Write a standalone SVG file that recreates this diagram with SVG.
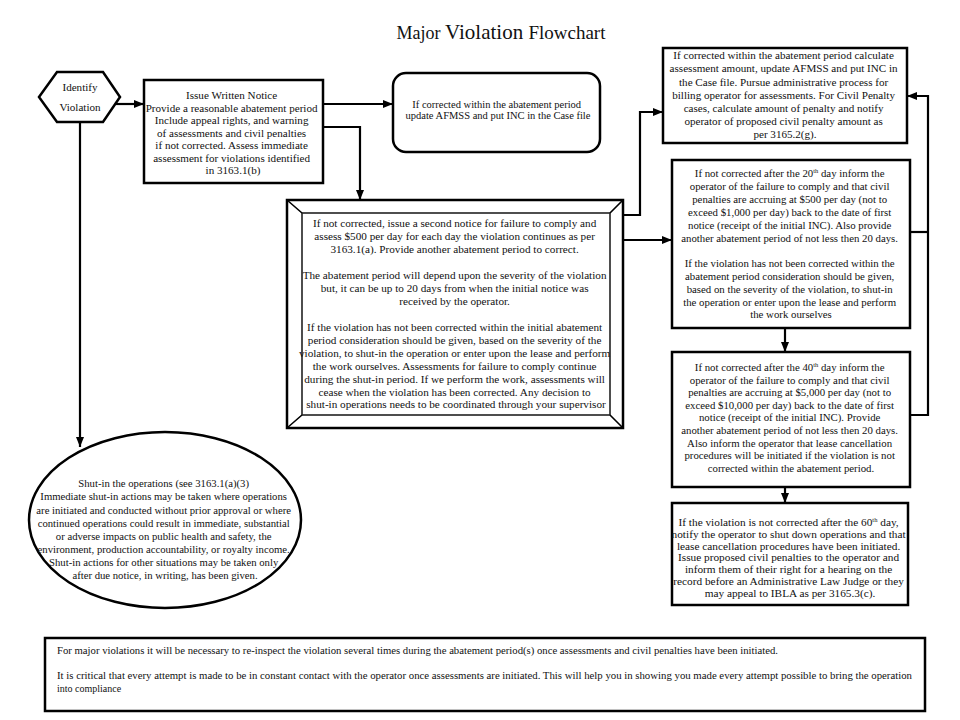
<svg xmlns="http://www.w3.org/2000/svg" width="960" height="720" viewBox="0 0 960 720">
<style>
.t{font-family:"Liberation Serif","Times New Roman",serif;fill:#111;text-anchor:middle}
.tl{font-family:"Liberation Serif","Times New Roman",serif;fill:#111;text-anchor:start}
.box{fill:#fff;stroke:#000;stroke-width:2.5}
.con{fill:none;stroke:#000;stroke-width:2.2}
.arr{marker-end:url(#ah)}
</style>
<defs>
<marker id="ah" viewBox="0 0 10 8" refX="10" refY="4" markerWidth="10" markerHeight="8" markerUnits="userSpaceOnUse" orient="auto">
<path d="M0,0 L10,4 L0,8 z" fill="#000"/>
</marker>
</defs>
<rect width="960" height="720" fill="#fff"/>

<g id="title">
<text class="t" x="501" y="39"><tspan font-size="18">Major </tspan><tspan font-size="21">Violation </tspan><tspan font-size="19">Flowchart</tspan></text>
</g>

<g id="connectors">
<path class="con arr" d="M116,104 H144"/>
<path class="con arr" d="M323,104 H393"/>
<path class="con arr" d="M323,127 H360 V200"/>
<path class="con arr" d="M80,122 V447"/>
<path class="con arr" d="M623,215 H640 V112 H663"/>
<path class="con arr" d="M623,240 H672"/>
<path class="con arr" d="M785,328 V352"/>
<path class="con arr" d="M785,487 V503"/>
<path class="con" d="M910,232 H928"/>
<path class="con arr" d="M910,415 H928 V96 H907"/>
</g>

<g id="identify">
<polygon class="box" points="39,97 57,72 103,72 120,97 103,122 57,122"/>
<text class="t" font-size="11.1"><tspan x="80" y="91">Identify</tspan><tspan x="80" y="111">Violation</tspan></text>
</g>

<g id="notice">
<rect class="box" x="144" y="80" width="179" height="103"/>
<text class="t" font-size="11.1">
<tspan x="233" y="99">Issue Written Notice</tspan>
<tspan x="233" y="111.5">Provide a reasonable abatement period</tspan>
<tspan x="233" y="124">Include appeal rights, and warning</tspan>
<tspan x="233" y="136.5">of assessments and civil penalties</tspan>
<tspan x="233" y="149">if not corrected.  Assess immediate</tspan>
<tspan x="233" y="161.5">assessment for violations identified</tspan>
<tspan x="233" y="174">in 3163.1(b)</tspan>
</text>
</g>

<g id="corrected">
<rect class="box" x="393" y="73" width="207" height="79" rx="13"/>
<text class="t" font-size="10.5">
<tspan x="498" y="107.5">If corrected within the abatement period</tspan>
<tspan x="498" y="119">update AFMSS and put INC in the Case file</tspan>
</text>
</g>

<g id="second-notice">
<rect class="box" x="287" y="200" width="336" height="228"/>
<rect x="302" y="213" width="308" height="202" fill="#fff" stroke="#222" stroke-width="1.6"/>
<path d="M287,200 L302,213 M623,200 L610,213 M287,428 L302,415 M623,428 L610,415" stroke="#000" stroke-width="1.6" fill="none"/>
<text class="t" font-size="11.2">
<tspan x="456" y="227">If not corrected, issue a second notice for failure to comply and</tspan>
<tspan x="456" y="240">assess $500 per day for each day the violation continues as per</tspan>
<tspan x="456" y="253">3163.1(a).  Provide another abatement period to correct.</tspan>
<tspan x="456" y="279">The abatement period will depend upon the severity of the violation</tspan>
<tspan x="456" y="292">but, it can be up to 20 days from when the initial notice was</tspan>
<tspan x="456" y="305">received by the operator.</tspan>
<tspan x="456" y="331">If the violation has not been corrected within the initial abatement</tspan>
<tspan x="456" y="344">period consideration should be given, based on the severity of the</tspan>
<tspan x="456" y="357">violation, to shut-in the operation or enter upon the lease and perform</tspan>
<tspan x="456" y="370">the work ourselves.  Assessments for failure to comply continue</tspan>
<tspan x="456" y="383">during the shut-in period.  If we perform the work, assessments will</tspan>
<tspan x="456" y="395.5">cease when the violation has been corrected.  Any decision to</tspan>
<tspan x="456" y="408">shut-in operations needs to be coordinated through your supervisor</tspan>
</text>
</g>

<g id="assessment">
<rect class="box" x="663" y="48" width="244" height="95"/>
<text class="t" font-size="11.1">
<tspan x="785" y="59">If corrected within the abatement period calculate</tspan>
<tspan x="785" y="72">assessment amount, update AFMSS and put INC in</tspan>
<tspan x="785" y="85.5">the Case file.  Pursue administrative process for</tspan>
<tspan x="785" y="98.5">billing operator for assessments.  For Civil Penalty</tspan>
<tspan x="785" y="112">cases, calculate amount of penalty and notify</tspan>
<tspan x="785" y="125">operator of proposed civil penalty amount as</tspan>
<tspan x="785" y="138">per 3165.2(g).</tspan>
</text>
</g>

<g id="day20">
<rect class="box" x="672" y="160" width="238" height="168"/>
<text class="t" font-size="10.8">
<tspan x="791" y="177">If not corrected after the 20<tspan font-size="6.5" dy="-4">th</tspan><tspan dy="4"> day inform the</tspan></tspan>
<tspan x="791" y="190">operator of the failure to comply and that civil</tspan>
<tspan x="791" y="203">penalties are accruing at $500 per day (not to</tspan>
<tspan x="791" y="216">exceed $1,000 per day) back to the date of first</tspan>
<tspan x="791" y="229">notice (receipt of the initial INC). Also provide</tspan>
<tspan x="791" y="242">another abatement period of not less then 20 days.</tspan>
<tspan x="791" y="267">If the violation has not been corrected within the</tspan>
<tspan x="791" y="280">abatement period consideration should be given,</tspan>
<tspan x="791" y="293">based on the severity of the violation, to shut-in</tspan>
<tspan x="791" y="305.5">the operation or enter upon the lease and perform</tspan>
<tspan x="791" y="318">the work ourselves</tspan>
</text>
</g>

<g id="day40">
<rect class="box" x="672" y="352" width="238" height="135"/>
<text class="t" font-size="10.8">
<tspan x="791" y="371">If not corrected after the 40<tspan font-size="6.5" dy="-4">th</tspan><tspan dy="4"> day inform the</tspan></tspan>
<tspan x="791" y="383.6">operator of the failure to comply and that civil</tspan>
<tspan x="791" y="396.2">penalties are accruing at $5,000 per day (not to</tspan>
<tspan x="791" y="408.8">exceed $10,000 per day) back to the date of first</tspan>
<tspan x="791" y="421.4">notice (receipt of the initial INC).  Provide</tspan>
<tspan x="791" y="434">another abatement period of not less then 20 days.</tspan>
<tspan x="791" y="446.6">Also inform the operator that lease cancellation</tspan>
<tspan x="791" y="459.2">procedures will be initiated if the violation is not</tspan>
<tspan x="791" y="471.8">corrected within the abatement period.</tspan>
</text>
</g>

<g id="day60">
<rect class="box" x="672" y="503" width="236" height="102"/>
<text class="t" font-size="11.3">
<tspan x="790" y="526">If the violation is not corrected after the 60<tspan font-size="6.5" dy="-4">th</tspan><tspan dy="4"> day,</tspan></tspan>
<tspan x="790" y="537.8">notify the operator  to shut down operations and that</tspan>
<tspan x="790" y="549.6">lease cancellation procedures have been initiated.</tspan>
<tspan x="790" y="561.4">Issue proposed civil penalties to the operator and</tspan>
<tspan x="790" y="573.2">inform them of their right for a hearing on the</tspan>
<tspan x="790" y="585">record before an Administrative Law Judge or they</tspan>
<tspan x="790" y="596.8">may appeal to IBLA as per 3165.3(c).</tspan>
</text>
</g>

<g id="shut-in">
<ellipse class="box" cx="165" cy="520" rx="136" ry="88"/>
<text class="t" font-size="10.7">
<tspan x="165" y="487">Shut-in the operations  (see 3163.1(a)(3)</tspan>
<tspan x="165" y="500">Immediate shut-in actions may be taken where operations</tspan>
<tspan x="165" y="513.5">are initiated and conducted without prior approval or where</tspan>
<tspan x="165" y="526.5">continued operations could result in immediate, substantial</tspan>
<tspan x="165" y="540">or adverse impacts on public health and safety, the</tspan>
<tspan x="165" y="553">environment, production accountability, or royalty income.</tspan>
<tspan x="165" y="566">Shut-in actions for other situations may be taken only</tspan>
<tspan x="165" y="579">after due notice, in writing, has been given.</tspan>
</text>
</g>

<g id="note">
<rect class="box" x="45" y="638" width="880" height="73"/>
<text class="tl" font-size="10">
<tspan x="57" y="654" textLength="721" lengthAdjust="spacingAndGlyphs">For major violations it will be necessary to re-inspect the violation several times during the abatement period(s) once assessments and civil penalties have been initiated.</tspan>
<tspan x="57" y="679" textLength="855" lengthAdjust="spacingAndGlyphs">It is critical that every attempt is made to be in constant contact with the operator once assessments are initiated.  This will help you in showing you made every attempt possible to bring the operation</tspan>
<tspan x="57" y="692">into compliance</tspan>
</text>
</g>
</svg>
